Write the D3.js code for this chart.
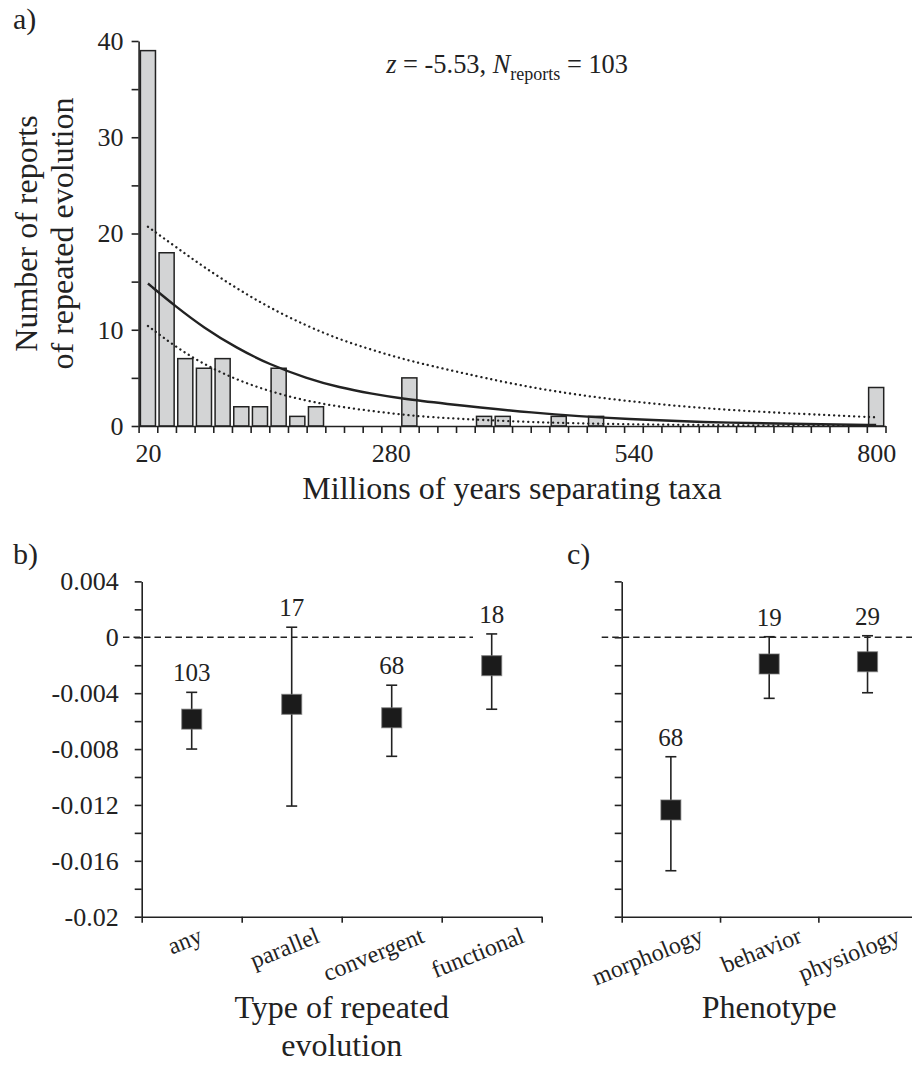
<!DOCTYPE html>
<html>
<head>
<meta charset="utf-8">
<script src="https://cdn.jsdelivr.net/npm/d3@7"></script>
<style>
  body { margin: 0; background: #fff; }
  text { font-family: "Liberation Serif", "Times New Roman", serif; fill: #222; }
</style>
</head>
<body>
<svg width="912" height="1066"></svg>
<script>
// histogram: bin centres (My) and number of reports
const binMids = [20, 40, 60, 80, 100, 120, 140, 160, 180, 200, 220, 240, 260, 280, 300, 320, 340, 360, 380, 400,
                 420, 440, 460, 480, 500, 520, 540, 560, 580, 600, 620, 640, 660, 680, 700, 720, 740, 760, 780, 800];
const binCounts = [39, 18, 7, 6, 7, 2, 2, 6, 1, 2, 0, 0, 0, 0, 5, 0, 0, 0, 1, 1,
                   0, 0, 1, 0, 1, 0, 0, 0, 0, 0, 0, 0, 0, 0, 0, 0, 0, 0, 0, 4];
const xTickLabels = [20, 280, 540, 800];

// fitted exponential and its bounds
const fitT     = [20, 50, 80, 115, 150, 190, 225, 260, 295, 330, 430, 535, 645, 750, 800];
const fitMid   = [14.8, 12.4, 10.2, 8.1, 6.4, 4.95, 4.0, 3.35, 2.8, 2.4, 1.35, 0.68, 0.32, 0.16, 0.1];
const fitUpper = [20.7, 18.6, 16.5, 14.3, 12.3, 10.4, 9.0, 7.9, 6.9, 6.1, 3.9, 2.5, 1.6, 1.12, 0.9];
const fitLower = [10.4, 8.2, 6.4, 4.8, 3.6, 2.6, 2.0, 1.55, 1.15, 0.85, 0.37, 0.16, 0.07, 0.04, 0.03];

// panel b: type of repeated evolution
const typeNames = ["any", "parallel", "convergent", "functional"];
const typeExp   = [-0.00586, -0.0048, -0.00576, -0.00203];
const typeLow   = [-0.0080, -0.01208, -0.00852, -0.00515];
const typeHigh  = [-0.00394, 0.00072, -0.00343, 0.00024];
const typeN     = [103, 17, 68, 18];

// panel c: phenotype
const phenoNames = ["morphology", "behavior", "physiology"];
const phenoExp   = [-0.01236, -0.00191, -0.00175];
const phenoLow   = [-0.01671, -0.00437, -0.00397];
const phenoHigh  = [-0.00855, 0.00004, 0.00011];
const phenoN     = [68, 19, 29];

const expTicks = [0.004, 0.002, 0, -0.002, -0.004, -0.006, -0.008, -0.010, -0.012, -0.014, -0.016, -0.018, -0.02];
const expLabels = [0.004, 0, -0.004, -0.008, -0.012, -0.016, -0.02];

const inkColor = "#222222";
const barColor = "#d3d4d5";
const markColor = "#1b1b1b";

const svg = d3.select("svg");

function styleAxis(g) {
    g.selectAll("path.domain").attr("stroke", inkColor).attr("stroke-width", 1.6);
    g.selectAll(".tick line").attr("stroke", inkColor).attr("stroke-width", 1.6);
    g.selectAll(".tick text").attr("fill", inkColor)
        .style("font-family", '"Liberation Serif", "Times New Roman", serif');
}

// ---------- panel a ----------
const aLeft = 138.6, aRight = 885.5, aTop = 41, aBottom = 426;
const xT = d3.scaleLinear().domain([10, 810]).range([aLeft, aRight]);
const yA = d3.scaleLinear().domain([0, 40]).range([aBottom, aTop]);

const gA = svg.append("g");

gA.append("g")
    .selectAll("rect")
    .data(binMids.map((t, i) => ({ t: t, n: binCounts[i] })).filter(d => d.n > 0))
    .join("rect")
    .attr("x", d => xT(d.t - 10) + 1.8)
    .attr("width", d => xT(d.t + 10) - xT(d.t - 10) - 3.6)
    .attr("y", d => yA(d.n))
    .attr("height", d => yA(0) - yA(d.n))
    .attr("fill", barColor)
    .attr("stroke", inkColor)
    .attr("stroke-width", 1.5);

const fitLine = d3.line()
    .x((d, i) => xT(fitT[i]))
    .y(d => yA(d))
    .curve(d3.curveBasis);

// dotted bounds: round dots
gA.append("path").datum(fitUpper).attr("d", fitLine)
    .attr("fill", "none").attr("stroke", inkColor).attr("stroke-width", 2.3)
    .attr("stroke-linecap", "round").attr("stroke-dasharray", "0.1,4.9");
gA.append("path").datum(fitLower).attr("d", fitLine)
    .attr("fill", "none").attr("stroke", inkColor).attr("stroke-width", 2.3)
    .attr("stroke-linecap", "round").attr("stroke-dasharray", "0.1,4.9");
gA.append("path").datum(fitMid).attr("d", fitLine)
    .attr("fill", "none").attr("stroke", inkColor).attr("stroke-width", 2.4);

// y axis
gA.append("g")
    .attr("transform", `translate(${aLeft},0)`)
    .call(d3.axisLeft(yA).tickValues(d3.range(0, 41, 5)).tickSize(7).tickSizeOuter(0).tickPadding(8)
        .tickFormat(d => (d % 10 === 0 ? d : "")))
    .call(styleAxis)
    .selectAll(".tick text").attr("font-size", 26);

// x axis: ticks on bin edges, labels on bin centres
gA.append("g")
    .attr("transform", `translate(0,${aBottom})`)
    .call(d3.axisBottom(xT).tickValues(d3.range(10, 811, 20)).tickSize(7).tickSizeOuter(0).tickFormat(""))
    .call(styleAxis);
gA.append("g")
    .attr("transform", `translate(0,${aBottom})`)
    .call(d3.axisBottom(xT).tickValues(xTickLabels).tickSize(0).tickPadding(18))
    .call(styleAxis)
    .call(g => g.select("path.domain").remove())
    .selectAll(".tick text").attr("font-size", 26);

gA.append("text")
    .attr("x", (aLeft + aRight) / 2).attr("y", 499)
    .attr("text-anchor", "middle").attr("font-size", 32)
    .text("Millions of years separating taxa");

const yTitle = gA.append("text")
    .attr("transform", `translate(0,${(aTop + aBottom) / 2}) rotate(-90)`)
    .attr("text-anchor", "middle").attr("font-size", 32);
yTitle.append("tspan").attr("x", 0).attr("y", 37).text("Number of reports");
yTitle.append("tspan").attr("x", 0).attr("y", 73).text("of repeated evolution");

const note = gA.append("text")
    .attr("x", 628).attr("y", 73)
    .attr("text-anchor", "end").attr("font-size", 26.4);
note.append("tspan").attr("font-style", "italic").text("z");
note.append("tspan").text(" = -5.53, ");
note.append("tspan").attr("font-style", "italic").text("N");
note.append("tspan").attr("font-size", 18).attr("dy", 7).text("reports");
note.append("tspan").attr("dy", -7).text(" = 103");

gA.append("text").attr("x", 13).attr("y", 29).attr("font-size", 30).text("a)");

// ---------- panels b and c ----------
const yTopE = 581.4, yBottomE = 916.7;
const yE = d3.scaleLinear().domain([-0.02, 0.004]).range([yBottomE, yTopE]);

function fmtExp(d) {
    if (Math.abs(d) < 1e-9) return "0";
    return d3.format(".3~f")(d).replace("−", "-");
}

function drawPanel(opts) {
    const g = svg.append("g");
    const n = opts.names.length;
    const xi = d3.scaleLinear().domain([0, n]).range([opts.left, opts.right]);

    // zero reference
    g.append("line")
        .attr("x1", opts.zeroFrom).attr("x2", opts.zeroTo)
        .attr("y1", yE(0)).attr("y2", yE(0))
        .attr("stroke", inkColor).attr("stroke-width", 1.5)
        .attr("stroke-dasharray", "6.5,4");

    g.append("g")
        .attr("transform", `translate(${opts.left},0)`)
        .call(d3.axisLeft(yE).tickValues(expTicks).tickSize(7).tickSizeOuter(0).tickPadding(16)
            .tickFormat(d => (opts.labels && expLabels.some(v => Math.abs(v - d) < 1e-9) ? fmtExp(d) : "")))
        .call(styleAxis)
        .selectAll(".tick text").attr("font-size", 26);

    g.append("g")
        .attr("transform", `translate(0,${yBottomE})`)
        .call(d3.axisBottom(xi).tickValues(d3.range(0, n + 1)).tickSize(6).tickSizeOuter(0).tickFormat(""))
        .call(styleAxis);

    const items = opts.names.map((name, i) => ({
        name: name, x: xi(i + 0.5), v: opts.exp[i], lo: opts.low[i], hi: opts.high[i], n: opts.count[i]
    }));

    const eb = g.append("g").attr("stroke", inkColor).attr("stroke-width", 1.6);
    eb.selectAll("line.bar").data(items).join("line").attr("class", "bar")
        .attr("x1", d => d.x).attr("x2", d => d.x)
        .attr("y1", d => yE(d.hi)).attr("y2", d => yE(d.lo));
    eb.selectAll("line.capHi").data(items).join("line").attr("class", "capHi")
        .attr("x1", d => d.x - 5.5).attr("x2", d => d.x + 5.5)
        .attr("y1", d => yE(d.hi)).attr("y2", d => yE(d.hi));
    eb.selectAll("line.capLo").data(items).join("line").attr("class", "capLo")
        .attr("x1", d => d.x - 5.5).attr("x2", d => d.x + 5.5)
        .attr("y1", d => yE(d.lo)).attr("y2", d => yE(d.lo));

    g.selectAll("rect.mark").data(items).join("rect").attr("class", "mark")
        .attr("x", d => d.x - 10).attr("y", d => yE(d.v) - 10)
        .attr("width", 20).attr("height", 20)
        .attr("fill", markColor)
        .attr("stroke", "#777").attr("stroke-opacity", 0.6).attr("stroke-width", 1.2);

    g.selectAll("text.count").data(items).join("text").attr("class", "count")
        .attr("x", d => d.x).attr("y", d => yE(d.hi) - 11)
        .attr("text-anchor", "middle").attr("font-size", 25)
        .text(d => d.n);

    // slanted category labels
    const ang = 22, rad = ang * Math.PI / 180;
    g.selectAll("text.cat").data(items).join("text").attr("class", "cat")
        .attr("font-size", 24).attr("text-anchor", "end")
        .text(d => d.name)
        .each(function(d) {
            const len = this.getComputedTextLength();
            const shift = Math.min(38, len * Math.cos(rad) / 2);
            const ax = d.x + shift - 4;
            const ay = yBottomE + 25;
            d3.select(this).attr("transform", `translate(${ax},${ay}) rotate(${-ang})`);
        });

    const title = g.append("text").attr("text-anchor", "middle").attr("font-size", 32);
    opts.title.forEach((line, i) => {
        title.append("tspan").attr("x", (opts.left + opts.right) / 2).attr("y", 1018 + i * 38).text(line);
    });

    g.append("text").attr("x", opts.tagX).attr("y", 564).attr("font-size", 30).text(opts.tag);
}

drawPanel({
    names: typeNames, exp: typeExp, low: typeLow, high: typeHigh, count: typeN,
    left: 141.7, right: 541.7, zeroFrom: 123, zeroTo: 473, labels: true,
    title: ["Type of repeated", "evolution"], tag: "b)", tagX: 13
});

drawPanel({
    names: phenoNames, exp: phenoExp, low: phenoLow, high: phenoHigh, count: phenoN,
    left: 621.7, right: 916.7, zeroFrom: 601.7, zeroTo: 912, labels: false,
    title: ["Phenotype"], tag: "c)", tagX: 567
});
</script>
</body>
</html>
